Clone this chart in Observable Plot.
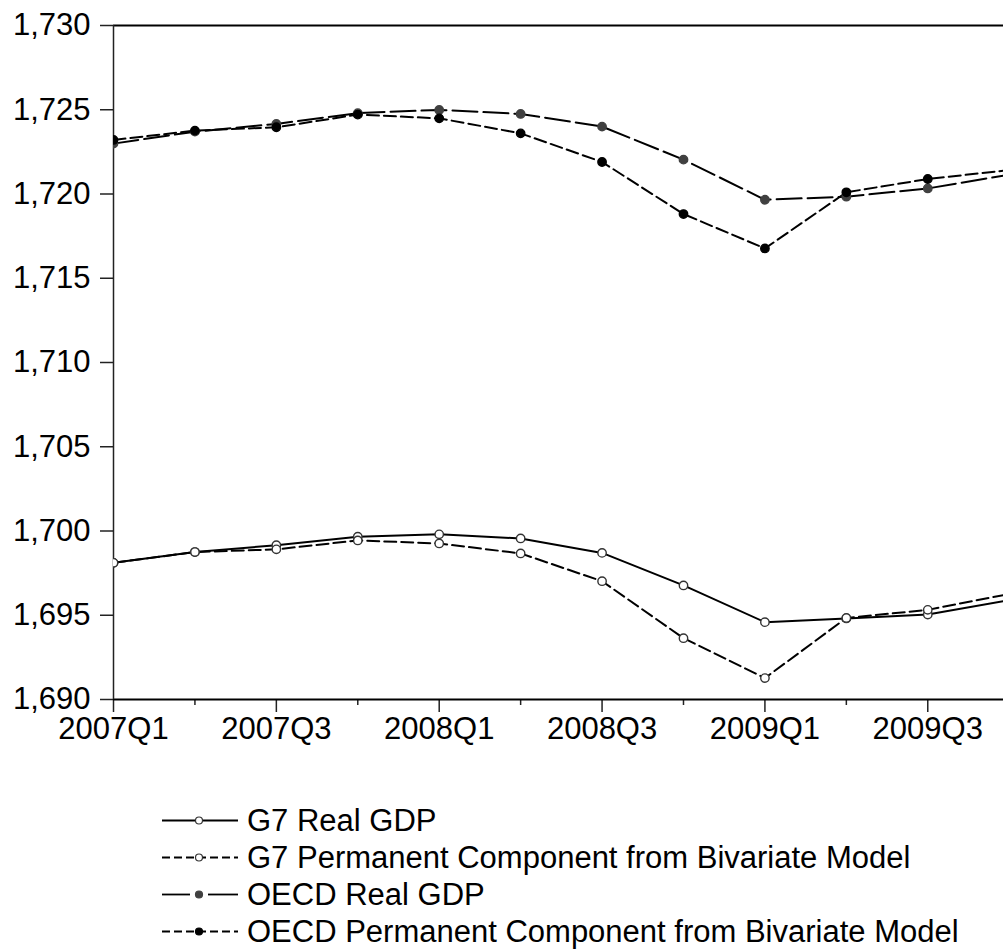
<!DOCTYPE html>
<html>
<head>
<meta charset="utf-8">
<script src="https://cdn.jsdelivr.net/npm/d3@7"></script>
<script src="https://cdn.jsdelivr.net/npm/@observablehq/plot@0.6"></script>
<style>
  html, body { margin: 0; padding: 0; background: #fff; overflow: hidden; }
  #wrap { position: relative; width: 1003px; height: 950px; font-family: "Liberation Sans", Arial, sans-serif; }
  #legend { position: absolute; left: 162px; top: 802px; }
  .row { display: flex; align-items: center; height: 37px; }
  .row span { font-size: 31px; margin-left: 9px; color: #000; line-height: 37px; white-space: nowrap; }
</style>
</head>
<body>
<div id="wrap">
  <div id="chart"></div>
  <div id="legend"></div>
</div>
<script>
const quarters = ["2007Q1","2007Q2","2007Q3","2007Q4","2008Q1","2008Q2","2008Q3","2008Q4","2009Q1","2009Q2","2009Q3","2009Q4"];
const g7Real   = [1698.11, 1698.75, 1699.16, 1699.66, 1699.80, 1699.56, 1698.70, 1696.77, 1694.59, 1694.81, 1695.04, 1695.89];
const g7Perm   = [1698.11, 1698.75, 1698.91, 1699.44, 1699.26, 1698.67, 1697.02, 1693.64, 1691.27, 1694.84, 1695.32, 1696.26];
const oecdReal = [1722.99, 1723.70, 1724.16, 1724.80, 1724.99, 1724.75, 1724.00, 1722.04, 1719.66, 1719.84, 1720.33, 1721.15];
const oecdPerm = [1723.21, 1723.76, 1723.96, 1724.71, 1724.49, 1723.60, 1721.90, 1718.81, 1716.77, 1720.10, 1720.89, 1721.42];
const seriesNames = [
  "G7 Real GDP",
  "G7 Permanent Component from Bivariate Model",
  "OECD Real GDP",
  "OECD Permanent Component from Bivariate Model"
];
const yTicks = [1690, 1695, 1700, 1705, 1710, 1715, 1720, 1725, 1730];
const xMajor = [0, 2, 4, 6, 8, 10];
const xMinor = [1, 3, 5, 7, 9];

const styles = [
  {dash: null,    fill: "white",   stroke: "#333"},
  {dash: "12,5",  fill: "white",   stroke: "#333"},
  {dash: "25,6",  fill: "#404040", stroke: "#404040"},
  {dash: "12,5",  fill: "black",   stroke: "black"}
];
const allValues = [g7Real, g7Perm, oecdReal, oecdPerm];
const tables = allValues.map(vals => quarters.map((q, i) => ({i, q, v: vals[i]})));

const marks = [];
tables.forEach((t, k) => {
  marks.push(Plot.line(t, {x: "i", y: "v", stroke: "black", strokeWidth: 2, strokeDasharray: styles[k].dash, clip: true}));
});
tables.forEach((t, k) => {
  marks.push(Plot.dot(t, {x: "i", y: "v", r: 4.2, fill: styles[k].fill, stroke: styles[k].stroke, strokeWidth: 1.4, clip: true}));
});

const chart = Plot.plot({
  width: 1003,
  height: 760,
  marginLeft: 113,
  marginRight: 0,
  marginTop: 25,
  marginBottom: 61,
  style: {fontFamily: "'Liberation Sans', Arial, sans-serif", fontSize: "31px", color: "black", background: "white"},
  x: {type: "linear", domain: [0, 10.93]},
  y: {domain: [1690, 1730]},
  marks: [
    Plot.axisY(yTicks, {tickSize: 13, tickPadding: 10, tickFormat: d3.format(","), stroke: "#222", strokeWidth: 1.5, fontSize: 31, label: null}),
    Plot.axisX(xMajor, {tickSize: 13, tickPadding: 4, tickFormat: i => quarters[i], stroke: "#222", strokeWidth: 1.5, fontSize: 31, label: null}),
    Plot.axisX(xMinor, {tickSize: 6, tickFormat: () => "", stroke: "#222", strokeWidth: 1.5, label: null}),
    Plot.ruleY([1730, 1690], {stroke: "black", strokeWidth: 2}),
    Plot.ruleX([0], {stroke: "#222", strokeWidth: 1.5}),
    ...marks
  ]
});
document.getElementById("chart").appendChild(chart);

// legend
const legend = document.getElementById("legend");
const ns = "http://www.w3.org/2000/svg";
seriesNames.forEach((name, k) => {
  const row = document.createElement("div");
  row.className = "row";
  const svg = document.createElementNS(ns, "svg");
  svg.setAttribute("width", 76);
  svg.setAttribute("height", 37);
  const segs = k === 2 ? [[0, 28], [46, 76]] : [[0, 76]];
  segs.forEach(([a, b]) => {
    const ln = document.createElementNS(ns, "line");
    ln.setAttribute("x1", a); ln.setAttribute("x2", b);
    ln.setAttribute("y1", 18.5); ln.setAttribute("y2", 18.5);
    ln.setAttribute("stroke", "black");
    ln.setAttribute("stroke-width", 1.8);
    if (k === 1 || k === 3) ln.setAttribute("stroke-dasharray", "8,4");
    svg.appendChild(ln);
  });
  const c = document.createElementNS(ns, "circle");
  c.setAttribute("cx", 37); c.setAttribute("cy", 18.5); c.setAttribute("r", 3.5);
  c.setAttribute("fill", styles[k].fill);
  c.setAttribute("stroke", styles[k].stroke);
  c.setAttribute("stroke-width", 1.2);
  svg.appendChild(c);
  row.appendChild(svg);
  const sp = document.createElement("span");
  sp.textContent = name;
  row.appendChild(sp);
  legend.appendChild(row);
});
</script>
</body>
</html>
